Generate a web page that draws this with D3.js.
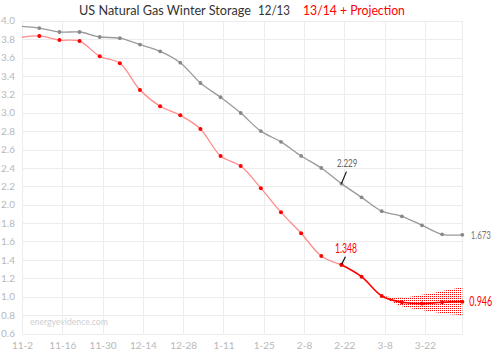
<!DOCTYPE html>
<html><head><meta charset="utf-8">
<script src="https://cdn.jsdelivr.net/npm/d3@7"></script>
<style>body{margin:0;background:#fff}svg{display:block}text{font-family:Lato,"Open Sans",sans-serif}</style>
</head><body><svg id="c" width="497" height="354"></svg>
<script>
// Weekly report dates (Fridays)
const dates = ["2013-11-01","2013-11-08","2013-11-15","2013-11-22","2013-11-29","2013-12-06","2013-12-13","2013-12-20","2013-12-27","2014-01-03","2014-01-10","2014-01-17","2014-01-24","2014-01-31","2014-02-07","2014-02-14","2014-02-21","2014-02-28","2014-03-07","2014-03-14","2014-03-21","2014-03-28","2014-04-04"];
// 12/13 season storage (Tcf)
const prev = [3.94,3.92,3.877,3.877,3.823,3.81,3.74,3.667,3.544,3.323,3.168,2.997,2.80,2.683,2.53,2.399,2.229,2.08,1.93,1.874,1.776,1.678,1.673];
// 13/14 season actual (through 2-21)
const curr = [3.815,3.834,3.789,3.778,3.613,3.537,3.247,3.07,2.972,2.823,2.53,2.42,2.18,1.917,1.69,1.443,1.348];
// projection from 2-21 onward
const projDates = dates.slice(16);
const proj = [1.348,1.218,1.008,0.94,0.925,0.94,0.946];
// projection band from 3-7
const bandDates = dates.slice(18);
const bandHi = [1.008,0.99,1.02,1.06,1.105];
const bandLo = [1.008,0.895,0.855,0.82,0.80];
const xTicks = ["2013-11-02","2013-11-16","2013-11-30","2013-12-14","2013-12-28","2014-01-11","2014-01-25","2014-02-08","2014-02-22","2014-03-08","2014-03-22"];
const yTicks = [0.6,0.8,1.0,1.2,1.4,1.6,1.8,2.0,2.2,2.4,2.6,2.8,3.0,3.2,3.4,3.6,3.8,4.0];

const P = d3.utcParse("%Y-%m-%d");
const svg = d3.select("#c");
const L = 22, R = 462.3, T = 20.7, B = 333.5;
const x = d3.scaleUtc().domain([P("2013-11-02"), P("2014-04-04")]).range([L, R]);
const y = d3.scaleLinear().domain([0.6, 4.0]).range([B, T]);

// place a text at (px,py) horizontally scaled to a target width
function fitText(str, px, py, w, size, color){
  const t = svg.append("text").attr("x",0).attr("y",0).attr("fill",color).style("font-size",size+"px").text(str);
  const nw = t.node().getComputedTextLength();
  t.attr("transform",`translate(${px},${py}) scale(${w/nw},1)`);
  return t;
}

const defs = svg.append("defs");
defs.append("clipPath").attr("id","clip").append("rect").attr("x",L).attr("y",0).attr("width",R-L+8).attr("height",354);
const pat = defs.append("pattern").attr("id","dots").attr("patternUnits","userSpaceOnUse").attr("width",2).attr("height",2);
pat.append("rect").attr("x",0).attr("y",0).attr("width",1).attr("height",1).attr("fill","#ff0000");

// grid
svg.append("g").selectAll("line").data(yTicks).join("line")
  .attr("x1",L).attr("x2",R).attr("y1",d=>Math.round(y(d))+0.5).attr("y2",d=>Math.round(y(d))+0.5)
  .attr("stroke","#ececec");
svg.append("g").selectAll("line").data(xTicks.map(P).concat([P("2014-04-04")])).join("line")
  .attr("y1",T).attr("y2",B).attr("x1",d=>Math.round(x(d))+0.5).attr("x2",d=>Math.round(x(d))+0.5)
  .attr("stroke","#ececec");

// axes labels
const yAxis = d3.axisLeft(y).tickValues(yTicks).tickFormat(d3.format(".1f")).tickSize(0).tickPadding(7);
const gy = svg.append("g").attr("transform",`translate(${L},0)`).call(yAxis);
gy.select(".domain").remove();
gy.selectAll("text").attr("fill","#b8b8b8").style("font-size","10px");
const xAxis = d3.axisBottom(x).tickValues(xTicks.map(P)).tickFormat(d3.utcFormat("%-m-%-d")).tickSize(0).tickPadding(8);
const gx = svg.append("g").attr("transform",`translate(0,${B})`).call(xAxis);
gx.select(".domain").remove();
gx.selectAll("text").attr("fill","#b8b8b8").style("font-size","10px");

// watermark
fitText("energyevidence.com", 30, 325, 78, 10, "#cfcfcf");

const plot = svg.append("g").attr("clip-path","url(#clip)");
const curve = d3.curveCatmullRom.alpha(0.5);

// band
const area = d3.area().x((d,i)=>x(P(bandDates[i]))).y0((d,i)=>y(bandLo[i])).y1((d,i)=>y(bandHi[i])).curve(curve);
plot.append("path").datum(bandHi).attr("d",area).attr("fill","url(#dots)");

// prev line
const lineP = d3.line().x((d,i)=>x(P(dates[i]))).y(d=>y(d)).curve(curve);
plot.append("path").datum(prev).attr("d",lineP).attr("fill","none").attr("stroke","#9a9a9a").attr("stroke-width",1.3);
plot.append("g").selectAll("circle").data(prev).join("circle")
  .attr("cx",(d,i)=>x(P(dates[i]))).attr("cy",d=>y(d)).attr("r",1.9).attr("fill","#888");

// current line
plot.append("path").datum(curr).attr("d",lineP).attr("fill","none").attr("stroke","#ff8c8c").attr("stroke-width",1.3);
// projection line
const linePr = d3.line().x((d,i)=>x(P(projDates[i]))).y(d=>y(d)).curve(curve);
plot.append("path").datum(proj).attr("d",linePr).attr("fill","none").attr("stroke","#ff0000").attr("stroke-width",1.6);
plot.append("g").selectAll("circle").data(curr).join("circle")
  .attr("cx",(d,i)=>x(P(dates[i]))).attr("cy",d=>y(d)).attr("r",2).attr("fill","#ff0000");
plot.append("g").selectAll("circle").data(proj).join("circle")
  .attr("cx",(d,i)=>x(P(projDates[i]))).attr("cy",d=>y(d)).attr("r",2).attr("fill","#ff0000");

// annotations
const a1x = x(P(dates[16])), a1y = y(prev[16]);
svg.append("line").attr("x1",a1x).attr("y1",a1y).attr("x2",a1x+5).attr("y2",a1y-12).attr("stroke","#111").attr("stroke-width",1.2);
fitText("2.229", a1x-4.5, a1y-17, 20.5, 10.5, "#666");
const a2x = x(P(dates[16])), a2y = y(curr[16]);
svg.append("line").attr("x1",a2x).attr("y1",a2y).attr("x2",a2x+4).attr("y2",a2y-8).attr("stroke","#111").attr("stroke-width",1.2);
fitText("1.348", a2x-6.5, a2y-11.5, 22, 13, "#ff0000");
const eX = x(P(dates[22]));
fitText("1.673", eX+8.5, y(prev[22])+4, 20, 10.5, "#777");
fitText("0.946", eX+7, y(proj[6])+4.5, 23, 13, "#ff0000");

// title
fitText("US Natural Gas Winter Storage", 79, 15, 172, 14, "#333");
fitText("12/13", 258, 15, 32, 14, "#333");
fitText("13/14 + Projection", 303, 15, 102, 14, "#ff0000");
</script></body></html>
